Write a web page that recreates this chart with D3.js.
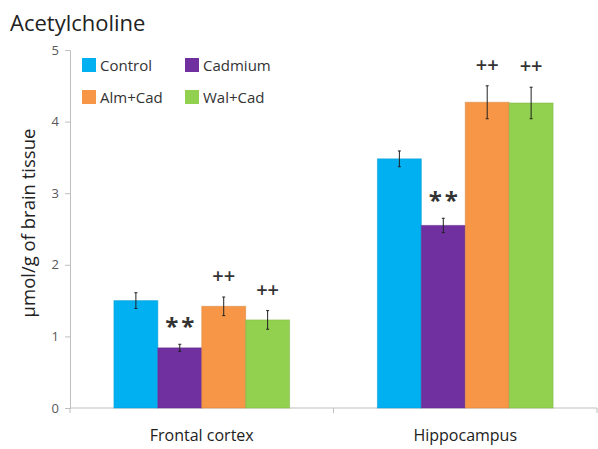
<!DOCTYPE html>
<html>
<head>
<meta charset="utf-8">
<script src="https://d3js.org/d3.v7.min.js"></script>
<style>
body { margin: 0; background: #fff; }
text { font-family: "Open Sans", "Noto Sans", sans-serif; }
</style>
</head>
<body>
<div id="chart"></div>
<script>
// data
var regions = ["Frontal cortex", "Hippocampus"];
var groups = ["Control", "Cadmium", "Alm+Cad", "Wal+Cad"];
var colors = ["#00b0f0", "#7030a0", "#f79646", "#92d050"];
var frontalMeans = [1.50, 0.84, 1.42, 1.23];
var frontalErrors = [0.11, 0.05, 0.13, 0.13];
var hippoMeans = [3.48, 2.55, 4.27, 4.26];
var hippoErrors = [0.11, 0.10, 0.23, 0.22];
var marks = [["", "**", "++", "++"], ["", "**", "++", "++"]];
var yTicks = [0, 1, 2, 3, 4, 5];

var means = [frontalMeans, hippoMeans];
var errors = [frontalErrors, hippoErrors];

var width = 598, height = 449;
var margin = {top: 50, right: 1, bottom: 41, left: 70};
var w = width - margin.left - margin.right,
    h = height - margin.top - margin.bottom;

var svg = d3.select("#chart").append("svg")
  .attr("width", width)
  .attr("height", height);

svg.append("text")
  .attr("x", 10).attr("y", 31)
  .attr("font-size", 22)
  .attr("fill", "#222")
  .text("Acetylcholine");

var g = svg.append("g")
  .attr("transform", "translate(" + margin.left + "," + margin.top + ")");

var x0 = d3.scaleBand().domain(regions).range([0, w]).padding(0);
var x1 = d3.scaleBand().domain(groups).range([0, x0.bandwidth()]).paddingInner(0).paddingOuter(1);
var y = d3.scaleLinear().domain([0, 5]).range([h, 0]);

// axes
var yAxis = g.append("g")
  .call(d3.axisLeft(y).tickValues(yTicks).tickFormat(d3.format("d")).tickSize(5).tickPadding(6));
yAxis.select(".domain").attr("stroke", "#bfbfbf");
yAxis.selectAll(".tick line").attr("stroke", "#bfbfbf");
yAxis.selectAll(".tick text").attr("fill", "#595959").attr("font-size", 13)
  .style("font-family", "\"Open Sans\", sans-serif");

var xAxis = g.append("g")
  .attr("transform", "translate(0," + h + ")");
xAxis.append("line").attr("x1", 0).attr("x2", w).attr("stroke", "#bfbfbf");
xAxis.selectAll(".xt")
  .data([0].concat(regions.map(function (r) { return x0(r) + x0.bandwidth(); })))
  .enter().append("line")
  .attr("x1", function (d) { return d; }).attr("x2", function (d) { return d; })
  .attr("y1", 0).attr("y2", 5).attr("stroke", "#bfbfbf");
xAxis.selectAll(".xl")
  .data(regions)
  .enter().append("text")
  .attr("x", function (d) { return x0(d) + x0.bandwidth() / 2; })
  .attr("y", 33)
  .attr("text-anchor", "middle")
  .attr("font-size", 16)
  .attr("fill", "#222")
  .text(function (d) { return d; });

// y label
svg.append("text")
  .attr("transform", "translate(35,223) rotate(-90)")
  .attr("text-anchor", "middle")
  .attr("font-size", 18.5)
  .attr("fill", "#222")
  .text("µmol/g of brain tissue");

// bars
regions.forEach(function (r, ri) {
  var rg = g.append("g").attr("transform", "translate(" + x0(r) + ",0)");
  groups.forEach(function (k, gi) {
    var v = means[ri][gi], e = errors[ri][gi];
    var bx = x1(k), bw = x1.bandwidth(), cx = bx + bw / 2;
    rg.append("rect")
      .attr("x", bx).attr("y", y(v))
      .attr("width", bw).attr("height", y(0) - y(v))
      .attr("fill", colors[gi])
      .attr("stroke", d3.color(colors[gi]).darker(0.4))
      .attr("stroke-opacity", 0.5)
      .attr("stroke-width", 1);
    rg.append("line")
      .attr("x1", cx).attr("x2", cx)
      .attr("y1", y(v + e)).attr("y2", y(v - e))
      .attr("stroke", "#222").attr("stroke-width", 1);
    [v + e, v - e].forEach(function (t) {
      rg.append("line")
        .attr("x1", cx - 1.5).attr("x2", cx + 1.5)
        .attr("y1", y(t)).attr("y2", y(t))
        .attr("stroke", "#222").attr("stroke-width", 1);
    });
    if (marks[ri][gi]) {
      var isStar = marks[ri][gi] === "**";
      rg.append("text")
        .attr("x", cx + (isStar ? 1.5 : 0))
        .attr("y", y(v + e) - (isStar ? 9 : 14))
        .attr("text-anchor", "middle")
        .attr("font-size", isStar ? 24 : 20)
        .attr("font-weight", isStar ? "bold" : "600")
        .attr("fill", "#333")
        .attr("letter-spacing", isStar ? 3 : 0)
        .text(marks[ri][gi]);
    }
  });
});

// legend
var legend = svg.append("g");
var legX = [82, 185], legY = [65, 97];
groups.forEach(function (k, i) {
  var lx = legX[i % 2], ly = legY[Math.floor(i / 2)];
  legend.append("rect")
    .attr("x", lx).attr("y", ly - 7)
    .attr("width", 14).attr("height", 14)
    .attr("fill", colors[i]);
  legend.append("text")
    .attr("x", lx + 18).attr("y", ly + 5.5)
    .attr("font-size", 15)
    .attr("fill", "#333")
    .text(k);
});
</script>
</body>
</html>
